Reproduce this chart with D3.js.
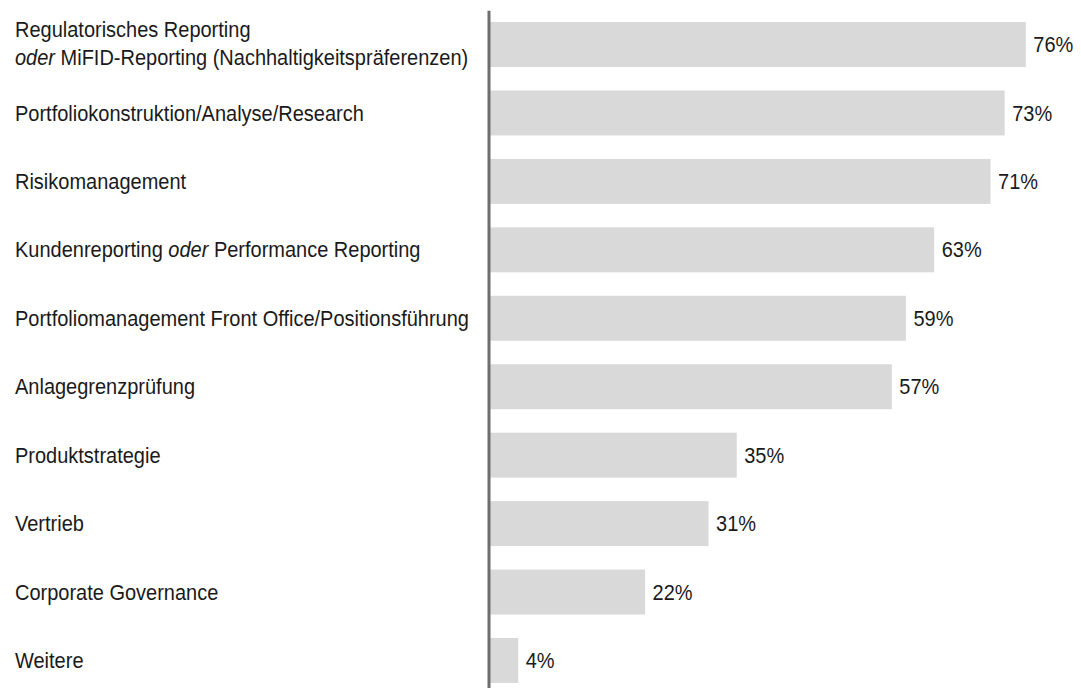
<!DOCTYPE html>
<html lang="de">
<head>
    <meta charset="UTF-8">
    <title>Einsatzbereiche</title>
    <script src="https://d3js.org/d3.v7.min.js"></script>
    <style>
        body { margin: 0; background: #fff; }
        text { font-family: "Liberation Sans", Arial, sans-serif; fill: #1a1a1a; font-size: 21.5px; }
    </style>
</head>
<body>
    <script>
        // categories, one entry per line; _word_ = italic
        var categories = [
            ["Regulatorisches Reporting", "_oder_ MiFID-Reporting (Nachhaltigkeitspräferenzen)"],
            ["Portfoliokonstruktion/Analyse/Research"],
            ["Risikomanagement"],
            ["Kundenreporting _oder_ Performance Reporting"],
            ["Portfoliomanagement Front Office/Positionsführung"],
            ["Anlagegrenzprüfung"],
            ["Produktstrategie"],
            ["Vertrieb"],
            ["Corporate Governance"],
            ["Weitere"]
        ];
        var values = [76, 73, 71, 63, 59, 57, 35, 31, 22, 4];
        var valueLabels = values.map(function(v) { return v + "%"; });

        var width = 1081, height = 688;
        var squeeze = 0.93; // glyphs in the original are a bit narrow

        var svg = d3.select("body").append("svg")
            .attr("width", width)
            .attr("height", height);

        var keys = d3.range(values.length);

        var x = d3.scaleLinear().domain([0, 100]).range([490, 1195]);
        var y = d3.scaleBand()
            .domain(keys)
            .range([10.3, 694.7])
            .paddingInner(0.343)
            .paddingOuter(0.1715);

        // bars
        svg.selectAll(".bar")
            .data(keys)
          .enter().append("rect")
            .attr("class", "bar")
            .attr("x", x(0))
            .attr("y", function(i) { return y(i); })
            .attr("width", function(i) { return x(values[i]) - x(0); })
            .attr("height", y.bandwidth())
            .attr("fill", "#d9d9d9");

        // vertical axis line only
        var axis = svg.append("g")
            .attr("transform", "translate(488.5,0)")
            .call(d3.axisLeft(y).tickSize(0).tickSizeOuter(0).tickFormat(""));
        axis.select(".domain")
            .attr("stroke", "#6e6e6e")
            .attr("stroke-width", 3);

        // value labels
        svg.selectAll(".val")
            .data(keys)
          .enter().append("text")
            .attr("class", "val")
            .attr("transform", function(i) {
                return "translate(" + (x(values[i]) + 7.5) + "," + (y(i) + y.bandwidth() / 2 + 7.6) + ") scale(" + squeeze + ",1)";
            })
            .text(function(i) { return valueLabels[i]; });

        // category labels
        var lineGap = 27.5;
        keys.forEach(function(i) {
            var lines = categories[i];
            var cy = y(i) + y.bandwidth() / 2;
            var t = svg.append("text")
                .attr("transform", "translate(15,0) scale(" + squeeze + ",1)");
            lines.forEach(function(line, j) {
                var base = cy + 7.6 - (lines.length - 1) * (lineGap / 2 + 1.3) + j * lineGap;
                var parts = line.split(/(_[^_]+_)/).filter(function(s) { return s.length; });
                parts.forEach(function(p, k) {
                    var italic = p[0] === "_";
                    var ts = t.append("tspan")
                        .text(italic ? p.slice(1, -1) : p)
                        .style("font-style", italic ? "italic" : "normal");
                    if (k === 0) ts.attr("x", 0).attr("y", base);
                });
            });
        });
    </script>
</body>
</html>
